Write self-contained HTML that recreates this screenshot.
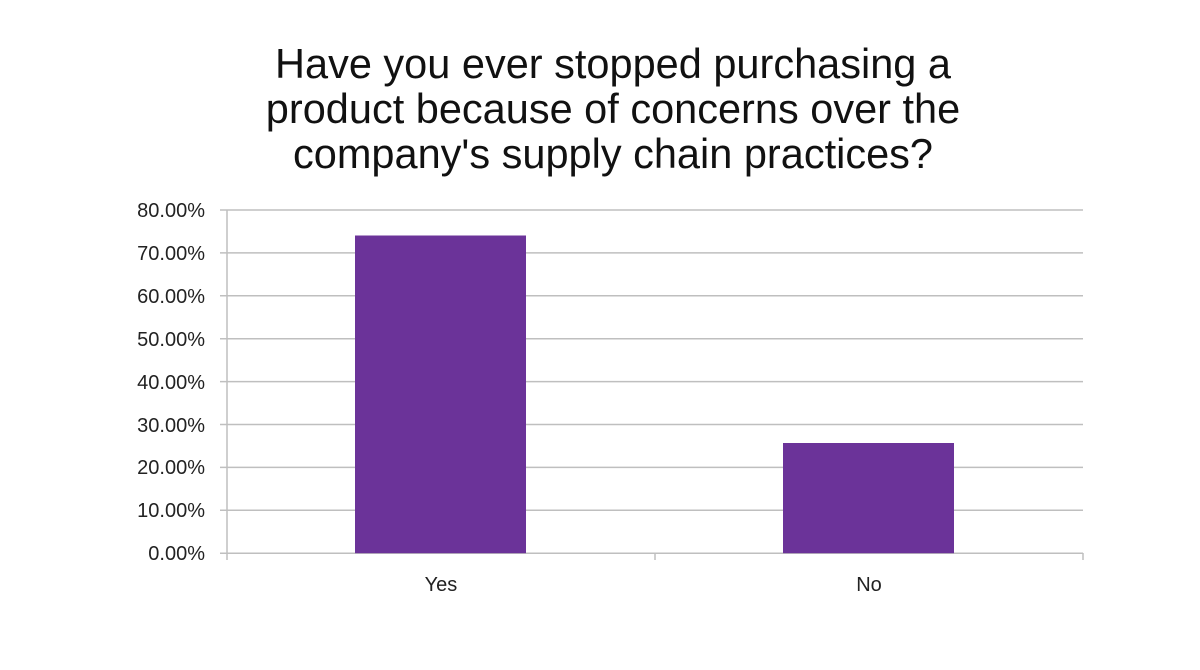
<!DOCTYPE html>
<html><head><style>
body{margin:0;background:#fff;}
</style></head><body>
<svg width="1200" height="665" xmlns="http://www.w3.org/2000/svg" font-family="Liberation Sans, sans-serif">
<rect width="1200" height="665" fill="#fff"/>
<g font-size="41.5" text-anchor="middle" fill="#111">
<text x="613" y="78">Have you ever stopped purchasing a</text>
<text x="613" y="123">product because of concerns over the</text>
<text x="613" y="168">company's supply chain practices?</text>
</g>
<g stroke="#bfbfbf" stroke-width="1.5">
<line x1="220" y1="210" x2="1083" y2="210"/>
<line x1="220" y1="252.9" x2="1083" y2="252.9"/>
<line x1="220" y1="295.8" x2="1083" y2="295.8"/>
<line x1="220" y1="338.7" x2="1083" y2="338.7"/>
<line x1="220" y1="381.6" x2="1083" y2="381.6"/>
<line x1="220" y1="424.5" x2="1083" y2="424.5"/>
<line x1="220" y1="467.4" x2="1083" y2="467.4"/>
<line x1="220" y1="510.3" x2="1083" y2="510.3"/>
<line x1="220" y1="553.2" x2="1083" y2="553.2"/>
<line x1="227" y1="210" x2="227" y2="560"/>
<line x1="655" y1="553" x2="655" y2="560"/>
<line x1="1083" y1="553" x2="1083" y2="560"/>
</g>
<rect x="355" y="235.5" width="171" height="317.7" fill="#6b3399"/>
<rect x="783" y="443" width="171" height="110.2" fill="#6b3399"/>
<g font-size="20" text-anchor="end" fill="#222">
<text x="205" y="217">80.00%</text>
<text x="205" y="260">70.00%</text>
<text x="205" y="303">60.00%</text>
<text x="205" y="346">50.00%</text>
<text x="205" y="389">40.00%</text>
<text x="205" y="432">30.00%</text>
<text x="205" y="474">20.00%</text>
<text x="205" y="517">10.00%</text>
<text x="205" y="560">0.00%</text>
</g>
<g font-size="20" text-anchor="middle" fill="#222">
<text x="441" y="591">Yes</text>
<text x="869" y="591">No</text>
</g>
</svg>
</body></html>
